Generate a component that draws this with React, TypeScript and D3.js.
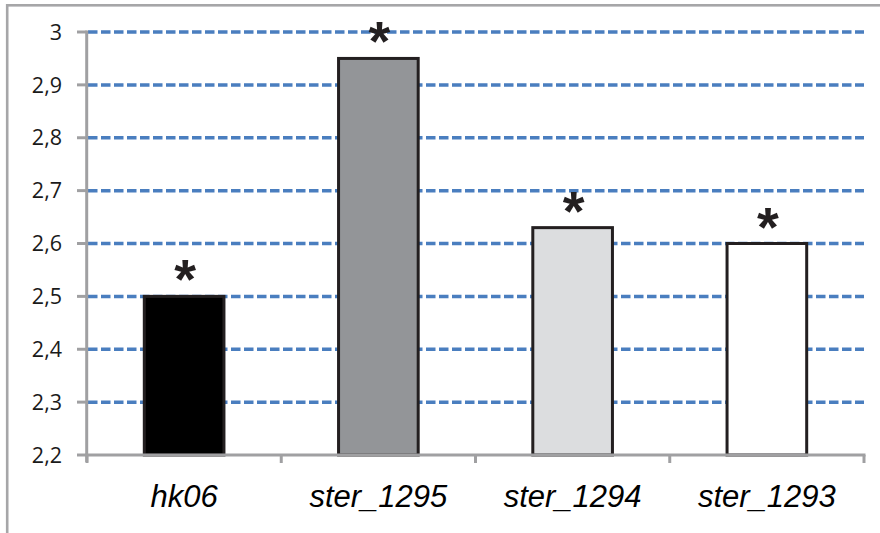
import React from "react";
import * as d3 from "d3";

const categories = ["hk06", "ster_1295", "ster_1294", "ster_1293"];
const values = [2.5, 2.95, 2.63, 2.6];
const fills = ["#000000", "#939598", "#dcdddf", "#ffffff"];
const marks = ["*", "*", "*", "*"];
const yTicks = [2.2, 2.3, 2.4, 2.5, 2.6, 2.7, 2.8, 2.9, 3];

const W = 880;
const H = 533;

export default function App() {
  const x = d3.scaleBand<string>().domain(categories).range([87, 864]).paddingInner(0.59).paddingOuter(0.295);
  const xb = d3.scaleBand<string>().domain(categories).range([87, 864]);
  const y = d3.scaleLinear().domain([2.2, 3]).range([455, 32]);
  const fmt = (v: number) => (Math.round(v * 10) / 10).toString().replace(".", ",");
  const bounds = [...categories.map((c) => xb(c) as number), 864];

  return (
    <svg width={W} height={H} style={{ position: "absolute", left: 0, top: 0 }}>
      <rect x={0} y={0} width={W} height={H} fill="#fff" />
      <rect x={7.2} y={5.3} width={W + 10} height={H + 10} fill="none" stroke="#a6a6a8" strokeWidth={2.6} />
      {yTicks.filter((t) => t > 2.2).map((t) => (
        <line key={"g" + t} x1={88} x2={864} y1={y(t)} y2={y(t)} stroke="#4a7ebf" strokeWidth={3.5} strokeDasharray="9.5,3.5" />
      ))}
      {categories.map((c, i) => (
        <rect key={c} x={x(c)} y={y(values[i])} width={x.bandwidth()} height={y(2.2) - y(values[i])} fill={fills[i]} stroke="#231f20" strokeWidth={3} />
      ))}
      {categories.map((c, i) => (
        <text key={"m" + c} x={(x(c) as number) + x.bandwidth() / 2 + 1} y={y(values[i]) + 2} textAnchor="middle" fontFamily="Liberation Sans" fontWeight="bold" fontSize={56} fill="#231f20">{marks[i]}</text>
      ))}
      {/* y axis */}
      <line x1={86.7} x2={86.7} y1={y(3) - 1.5} y2={y(2.2) + 7} stroke="#a0a0a2" strokeWidth={3} />
      {yTicks.map((t) => (
        <g key={"t" + t}>
          <line x1={77} x2={86.7} y1={y(t)} y2={y(t)} stroke="#a0a0a2" strokeWidth={3} />
          <text x={62} y={y(t)} dy="0.36em" textAnchor="end" fontFamily="Open Sans" fontSize={21.5} fill="#1a1a1a">{fmt(t)}</text>
        </g>
      ))}
      {/* x axis */}
      <line x1={85.2} x2={865.5} y1={y(2.2)} y2={y(2.2)} stroke="#a0a0a2" strokeWidth={3} />
      {bounds.map((b, i) => (
        <line key={"xt" + i} x1={b} x2={b} y1={y(2.2)} y2={y(2.2) + 8} stroke="#a0a0a2" strokeWidth={3} />
      ))}
      {categories.map((c) => (
        <text key={"l" + c} x={(xb(c) as number) + xb.bandwidth() / 2} y={507} textAnchor="middle" fontFamily="Liberation Sans" fontStyle="italic" fontSize={31} fill="#000">{c}</text>
      ))}
    </svg>
  );
}
